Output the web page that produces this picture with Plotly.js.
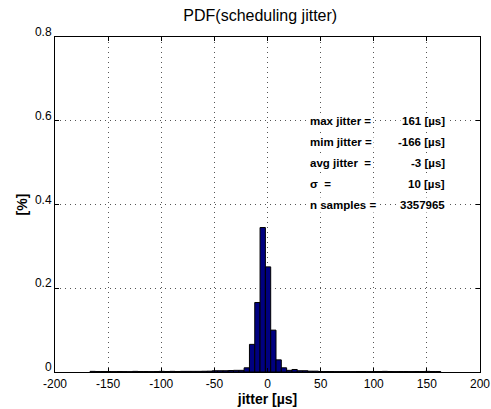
<!DOCTYPE html>
<html><head><meta charset="utf-8">
<script src="https://cdn.plot.ly/plotly-3.0.1.min.js"></script>
<style>html,body{margin:0;padding:0;background:#fff}#c{width:491px;height:409px}</style>
</head><body><div id="c"></div>
<script>
const binCenters = [-164.5,-159.5,-154.5,-149.5,-144.5,-139.5,-134.5,-129.5,-124.5,-119.5,-114.5,-109.5,-104.5,-99.5,-94.5,-89.5,-84.5,-79.5,-74.5,-69.5,-64.5,-59.5,-54.5,-49.5,-44.5,-39.5,-34.5,-29.5,-24.5,-19.5,-14.5,-9.5,-4.5,0.5,5.5,10.5,15.5,20.5,25.5,30.5,35.5,40.5,45.5,50.5,55.5,60.5,65.5,70.5,75.5,80.5,85.5,90.5,95.5,100.5,105.5,110.5,115.5,120.5,125.5,130.5,135.5,140.5,145.5,150.5,155.5,160.5];
const pdfValues = [0.0015,0.0012,0.0012,0.0012,0.0010,0.0012,0.0010,0.0008,0.0015,0.0012,0.0012,0.0010,0.0012,0.0015,0.0012,0.0015,0.0012,0.0015,0.0015,0.0015,0.0015,0.0018,0.002,0.003,0.003,0.003,0.0035,0.004,0.004,0.010,0.066,0.166,0.345,0.251,0.100,0.029,0.010,0.004,0.006,0.003,0.003,0.002,0.002,0.0012,0.0012,0.0012,0.0010,0.0012,0.0012,0.0010,0.0012,0.0012,0.0010,0.0012,0.0012,0.0015,0.0012,0.0010,0.0012,0.0012,0.0010,0.0012,0.0012,0.0015,0.0012,0.0012];
const xTicks = [-200,-150,-100,-50,0,50,100,150,200];
const yTicks = [0,0.2,0.4,0.6,0.8];
const yTickLabels = ['0','0.2','0.4','0.6','0.8'];
const statLabels = ['max jitter =','mim jitter =','avg jitter  =','σ  =','n samples ='];
const statValues = ['161 [µs]','-166 [µs]','-3 [µs]','10 [µs]','3357965'];
const statRows = [0.6,0.55,0.5,0.45,0.4];

const trace = {
  type:'bar', x:binCenters, y:pdfValues, width:5,
  marker:{color:'#000080', line:{color:'#000000', width:1}},
  hoverinfo:'skip'
};
const ann = [];
statLabels.forEach((t,i)=>{
  ann.push({x:38, y:statRows[i], xref:'x', yref:'y', text:t, showarrow:false, xanchor:'left', yanchor:'middle',
    font:{family:'Liberation Sans, Arial', size:11.5, color:'#000', weight:'bold'}, bgcolor:'#fff'});
  ann.push({x:169, y:statRows[i], xref:'x', yref:'y', text:statValues[i], showarrow:false, xanchor:'right', yanchor:'middle',
    font:{family:'Liberation Sans, Arial', size:11.5, color:'#000', weight:'bold'}, bgcolor:'#fff'});
});
const layout = {
  width:491, height:409,
  margin:{l:55, r:11, t:37, b:37},
  paper_bgcolor:'#fff', plot_bgcolor:'#fff',
  bargap:0, showlegend:false,
  title:{text:'PDF(scheduling jitter)', x:0.53, xanchor:'center', y:0.963, yanchor:'middle',
    font:{family:'Liberation Sans, Arial', size:16, color:'#000'}},
  xaxis:{range:[-200,200], tickvals:xTicks, ticktext:xTicks.map(String), ticks:'inside', ticklen:4, tickcolor:'#000',
    showline:true, linecolor:'#000', linewidth:1, mirror:'ticks', showgrid:true, gridcolor:'#555', griddash:'1px,4px', gridwidth:1,
    zeroline:false, ticklabelstandoff:1, tickfont:{family:'Liberation Sans, Arial', size:12, color:'#000'},
    title:{text:'jitter [µs]', standoff:1, font:{family:'Liberation Sans, Arial', size:14, color:'#000', weight:'bold'}}},
  yaxis:{range:[0,0.8], tickvals:yTicks, ticktext:yTickLabels, ticks:'inside', ticklen:4, tickcolor:'#000',
    showline:true, linecolor:'#000', linewidth:1, mirror:'ticks', showgrid:true, gridcolor:'#555', griddash:'1px,4px', gridwidth:1,
    zeroline:false, ticklabelshift:-5, tickfont:{family:'Liberation Sans, Arial', size:12, color:'#000'},
    title:{text:'[%]', standoff:4, font:{family:'Liberation Sans, Arial', size:14, color:'#000', weight:'bold'}}},
  annotations:ann
};
Plotly.newPlot('c',[trace],layout,{staticPlot:true, displayModeBar:false});
</script></body></html>
